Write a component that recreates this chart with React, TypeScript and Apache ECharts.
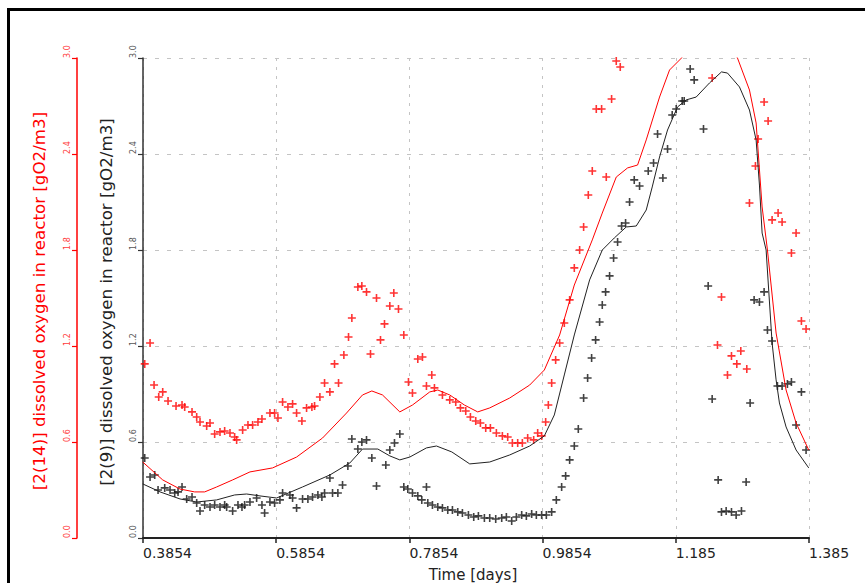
import React, { useEffect, useRef } from "react";
import * as echarts from "echarts";

// Time offset of the first x tick (days)
const T0 = 0.3854;
const xTickLabels = ["0.3854", "0.5854", "0.7854", "0.9854", "1.185", "1.385"];

const redAxisTitle = "[2(14)] dissolved oxygen in reactor [gO2/m3]";
const blackAxisTitle = "[2(9)] dissolved oxygen in reactor [gO2/m3]";
const xAxisTitle = "Time [days]";

// Simulated DO, sensor 2(9) (black line) [time, gO2/m3]
const blackModel: [number, number][] = [
  [0.385, 0.338], [0.411, 0.288], [0.441, 0.244], [0.466, 0.225], [0.496, 0.238],
  [0.523, 0.269], [0.541, 0.275], [0.561, 0.263], [0.586, 0.25], [0.625, 0.319],
  [0.666, 0.394], [0.696, 0.469], [0.715, 0.556], [0.738, 0.556], [0.756, 0.513],
  [0.771, 0.488], [0.786, 0.506], [0.811, 0.563], [0.826, 0.575], [0.849, 0.538],
  [0.876, 0.463], [0.906, 0.475], [0.936, 0.519], [0.966, 0.575], [0.988, 0.638],
  [1.003, 0.769], [1.018, 1.019], [1.033, 1.269], [1.056, 1.613], [1.075, 1.8],
  [1.093, 1.875], [1.111, 1.944], [1.126, 1.95], [1.141, 2.05], [1.15, 2.194],
  [1.161, 2.381], [1.173, 2.55], [1.188, 2.694], [1.201, 2.738], [1.216, 2.756],
  [1.236, 2.844], [1.254, 2.913], [1.263, 2.906], [1.281, 2.819], [1.296, 2.675],
  [1.306, 2.488], [1.311, 2.206], [1.315, 1.906], [1.321, 1.8], [1.33, 1.219],
  [1.336, 0.988], [1.341, 0.844], [1.351, 0.694], [1.366, 0.55], [1.385, 0.438],
];

// Simulated DO, sensor 2(14) (red line)
const redModel: [number, number][] = [
  [0.385, 0.475], [0.415, 0.363], [0.441, 0.306], [0.463, 0.288], [0.478, 0.288],
  [0.496, 0.319], [0.52, 0.363], [0.546, 0.413], [0.58, 0.438], [0.616, 0.506],
  [0.655, 0.625], [0.691, 0.781], [0.715, 0.894], [0.729, 0.919], [0.745, 0.894],
  [0.771, 0.788], [0.79, 0.831], [0.816, 0.913], [0.828, 0.925], [0.846, 0.894],
  [0.868, 0.831], [0.888, 0.788], [0.906, 0.813], [0.936, 0.875], [0.966, 0.956],
  [0.988, 1.05], [1.011, 1.269], [1.033, 1.581], [1.06, 1.863], [1.075, 2.031],
  [1.096, 2.256], [1.113, 2.313], [1.128, 2.331], [1.141, 2.488], [1.161, 2.756],
  [1.176, 2.925], [1.194, 3.0], [1.213, 3.11], [1.236, 3.18], [1.258, 3.14],
  [1.278, 3.0], [1.296, 2.8], [1.306, 2.594], [1.315, 2.069], [1.323, 1.8],
  [1.336, 1.281], [1.351, 0.925], [1.366, 0.719], [1.385, 0.55],
];

// Measured DO, sensor 2(14) (red crosses)
const redMeasured: [number, number][] = [
  [0.388, 1.088], [0.396, 1.219], [0.402, 0.956], [0.409, 0.881], [0.415, 0.913],
  [0.423, 0.856], [0.435, 0.825], [0.444, 0.831], [0.448, 0.819], [0.459, 0.788],
  [0.466, 0.756], [0.471, 0.725], [0.481, 0.7], [0.486, 0.719], [0.493, 0.65],
  [0.501, 0.663], [0.508, 0.669], [0.516, 0.656], [0.523, 0.631], [0.526, 0.613],
  [0.535, 0.675], [0.543, 0.706], [0.55, 0.706], [0.558, 0.725], [0.564, 0.744],
  [0.576, 0.781], [0.583, 0.781], [0.588, 0.75], [0.595, 0.85], [0.603, 0.819],
  [0.61, 0.838], [0.616, 0.781], [0.624, 0.731], [0.631, 0.813], [0.639, 0.819],
  [0.643, 0.825], [0.651, 0.881], [0.666, 0.913], [0.658, 0.969], [0.679, 0.969],
  [0.673, 1.088], [0.687, 1.144], [0.694, 1.256], [0.699, 1.375], [0.708, 1.569],
  [0.714, 1.575], [0.721, 1.538], [0.736, 1.5], [0.727, 1.15], [0.742, 1.238],
  [0.748, 1.338], [0.756, 1.45], [0.762, 1.531], [0.769, 1.431], [0.777, 1.269],
  [0.784, 0.975], [0.79, 0.906], [0.798, 1.119], [0.805, 1.131], [0.811, 0.95],
  [0.819, 1.019], [0.823, 0.938], [0.835, 0.894], [0.846, 0.863], [0.855, 0.85],
  [0.862, 0.813], [0.87, 0.794], [0.877, 0.756], [0.885, 0.731], [0.892, 0.719],
  [0.9, 0.688], [0.907, 0.688], [0.916, 0.656], [0.925, 0.638], [0.933, 0.631],
  [0.94, 0.594], [0.948, 0.594], [0.955, 0.594], [0.963, 0.625], [0.972, 0.613],
  [0.978, 0.656], [0.984, 0.638], [0.99, 0.725], [0.994, 0.831], [0.999, 0.969],
  [1.005, 1.113], [1.011, 1.219], [1.018, 1.344], [1.026, 1.488], [1.033, 1.688],
  [1.041, 1.8], [1.047, 1.944], [1.054, 2.144], [1.06, 2.294], [1.066, 2.681],
  [1.074, 2.681], [1.081, 2.256], [1.089, 2.744], [1.096, 2.981], [1.102, 2.944],
  [1.24, 2.875], [1.318, 2.725], [1.324, 2.606], [1.309, 2.494], [1.305, 2.325],
  [1.296, 2.094], [1.339, 2.031], [1.33, 1.988], [1.345, 1.975], [1.366, 1.906],
  [1.359, 1.781], [1.254, 1.506], [1.374, 1.356], [1.381, 1.306], [1.248, 1.206],
  [1.269, 1.138], [1.283, 1.169], [1.277, 1.088], [1.292, 1.056], [1.263, 1.019],
];

// Measured DO, sensor 2(9) (black crosses)
const blackMeasured: [number, number][] = [
  [0.388, 0.5], [0.396, 0.381], [0.403, 0.394], [0.408, 0.3], [0.418, 0.313],
  [0.426, 0.3], [0.433, 0.281], [0.438, 0.288], [0.444, 0.319], [0.451, 0.244],
  [0.459, 0.256], [0.466, 0.219], [0.471, 0.169], [0.478, 0.206], [0.486, 0.194],
  [0.493, 0.206], [0.501, 0.194], [0.508, 0.206], [0.511, 0.194], [0.52, 0.169],
  [0.528, 0.206], [0.534, 0.194], [0.538, 0.206], [0.546, 0.225], [0.556, 0.25],
  [0.564, 0.206], [0.568, 0.156], [0.576, 0.225], [0.583, 0.219], [0.591, 0.238],
  [0.595, 0.281], [0.606, 0.269], [0.61, 0.25], [0.616, 0.188], [0.625, 0.244],
  [0.633, 0.244], [0.64, 0.256], [0.648, 0.269], [0.654, 0.256], [0.658, 0.281],
  [0.666, 0.375], [0.67, 0.281], [0.678, 0.281], [0.685, 0.331], [0.693, 0.45],
  [0.699, 0.619], [0.708, 0.556], [0.714, 0.6], [0.721, 0.613], [0.729, 0.5],
  [0.736, 0.325], [0.75, 0.456], [0.756, 0.55], [0.763, 0.594], [0.771, 0.65],
  [0.777, 0.319], [0.783, 0.306], [0.79, 0.281], [0.798, 0.263], [0.804, 0.238],
  [0.811, 0.319], [0.813, 0.219], [0.82, 0.206], [0.828, 0.194], [0.835, 0.188],
  [0.843, 0.175], [0.85, 0.175], [0.858, 0.163], [0.865, 0.156], [0.874, 0.144],
  [0.882, 0.131], [0.889, 0.138], [0.898, 0.125], [0.906, 0.125], [0.915, 0.119],
  [0.924, 0.125], [0.931, 0.131], [0.939, 0.106], [0.946, 0.131], [0.954, 0.144],
  [0.961, 0.138], [0.969, 0.15], [0.976, 0.144], [0.984, 0.144], [0.991, 0.144],
  [0.999, 0.163], [1.006, 0.238], [1.014, 0.319], [1.02, 0.388], [1.026, 0.488],
  [1.033, 0.575], [1.039, 0.681], [1.047, 0.875], [1.053, 1.0], [1.059, 1.125],
  [1.065, 1.238], [1.071, 1.35], [1.075, 1.456], [1.08, 1.538], [1.086, 1.638],
  [1.092, 1.75], [1.098, 1.85], [1.104, 1.95], [1.11, 1.969], [1.116, 2.1],
  [1.123, 2.238], [1.131, 2.2], [1.144, 2.294], [1.152, 2.344], [1.166, 2.25],
  [1.173, 2.431], [1.158, 2.525], [1.18, 2.644], [1.186, 2.681], [1.195, 2.731],
  [1.198, 2.731], [1.207, 2.931], [1.213, 2.863], [1.227, 2.556], [1.234, 1.575],
  [1.24, 0.869], [1.249, 0.363], [1.254, 0.163], [1.261, 0.169], [1.269, 0.163],
  [1.276, 0.144], [1.284, 0.169], [1.291, 0.35], [1.297, 0.844], [1.303, 1.488],
  [1.311, 1.475], [1.318, 1.538], [1.323, 1.3], [1.33, 1.231], [1.338, 0.95],
  [1.345, 0.95], [1.353, 0.963], [1.359, 0.975], [1.374, 0.913], [1.366, 0.706],
  [1.381, 0.55],
];

const PLUS = "path://M4,0H6V4H10V6H6V10H4V6H0V4H4Z";
const shift = (arr: [number, number][]) => arr.map(([t, v]) => [t - T0, v]);

export default function App() {
  const ref = useRef<HTMLDivElement>(null);
  useEffect(() => {
    if (!ref.current) return;
    const chart = echarts.init(ref.current, undefined, { renderer: "svg" });
    const font = "DejaVu Sans";
    const yAxisBase = (color: string, labelColor: string, offset: number, split: boolean) => ({
      type: "value",
      position: "left",
      offset,
      min: 0,
      max: 3,
      interval: 0.6,
      axisLine: { show: true, onZero: false, lineStyle: { color, width: 1.5 } },
      axisTick: { show: true, length: 5, lineStyle: { color, width: 1.2 } },
      axisLabel: {
        rotate: 90,
        align: "left",
        margin: 6,
        fontSize: 8,
        fontFamily: font,
        color: labelColor,
        formatter: (v: number) => v.toFixed(1),
      },
      splitLine: {
        show: split,
        lineStyle: { color: "#c4c4c4", width: 1, type: [4, 8] },
      },
    });
    chart.setOption({
      animation: false,
      backgroundColor: "#ffffff",
      grid: { left: 143, right: 56, top: 58, bottom: 45, containLabel: false },
      xAxis: {
        type: "value",
        min: 0,
        max: 1,
        interval: 0.2,
        axisLine: { show: true, onZero: false, lineStyle: { color: "#222", width: 2 } },
        axisTick: { show: true, length: 5, lineStyle: { color: "#222", width: 1.5 } },
        axisLabel: {
          align: "left",
          margin: 8,
          fontSize: 14,
          fontFamily: font,
          color: "#222",
          formatter: (v: number) => xTickLabels[Math.round(v / 0.2)] ?? "",
        },
        splitLine: {
          show: true,
          lineStyle: { color: "#c4c4c4", width: 1, type: [3, 6] },
        },
      },
      yAxis: [
        yAxisBase("#333", "#555", 0, true),
        yAxisBase("#ff0000", "#ff3b3b", 66, false),
      ],
      graphic: [
        {
          type: "line",
          shape: { x1: 7, y1: 9.5, x2: 865, y2: 9.5 },
          style: { stroke: "#000", lineWidth: 3 },
        },
        {
          type: "line",
          shape: { x1: 8.5, y1: 8, x2: 8.5, y2: 583 },
          style: { stroke: "#000", lineWidth: 3 },
        },
        {
          type: "text",
          x: 39,
          y: 301,
          rotation: Math.PI / 2,
          style: {
            text: redAxisTitle,
            fill: "#ff0000",
            fontSize: 16.7,
            fontFamily: font,
            align: "center",
            verticalAlign: "middle",
          },
        },
        {
          type: "text",
          x: 106,
          y: 302,
          rotation: Math.PI / 2,
          style: {
            text: blackAxisTitle,
            fill: "#222",
            fontSize: 16.7,
            fontFamily: font,
            align: "center",
            verticalAlign: "middle",
          },
        },
        {
          type: "text",
          x: 473,
          y: 567,
          style: {
            text: xAxisTitle,
            fill: "#222",
            fontSize: 15,
            fontFamily: font,
            align: "center",
            verticalAlign: "top",
          },
        },
      ],
      series: [
        {
          type: "scatter",
          yAxisIndex: 1,
          data: shift(redMeasured),
          symbol: PLUS,
          symbolSize: 8,
          itemStyle: { color: "#ff0000" },
          silent: true,
        },
        {
          type: "scatter",
          yAxisIndex: 0,
          data: shift(blackMeasured),
          symbol: PLUS,
          symbolSize: 8,
          itemStyle: { color: "#111" },
          silent: true,
        },
        {
          type: "line",
          yAxisIndex: 1,
          data: shift(redModel),
          showSymbol: false,
          symbol: "none",
          clip: true,
          lineStyle: { color: "#ff0000", width: 1 },
          silent: true,
        },
        {
          type: "line",
          yAxisIndex: 0,
          data: shift(blackModel),
          showSymbol: false,
          symbol: "none",
          clip: true,
          lineStyle: { color: "#222", width: 1 },
          silent: true,
        },
      ],
    });
    return () => chart.dispose();
  }, []);
  return (
    <div
      ref={ref}
      style={{ position: "fixed", left: 0, top: 0, width: 865, height: 583, background: "#fff" }}
    />
  );
}
